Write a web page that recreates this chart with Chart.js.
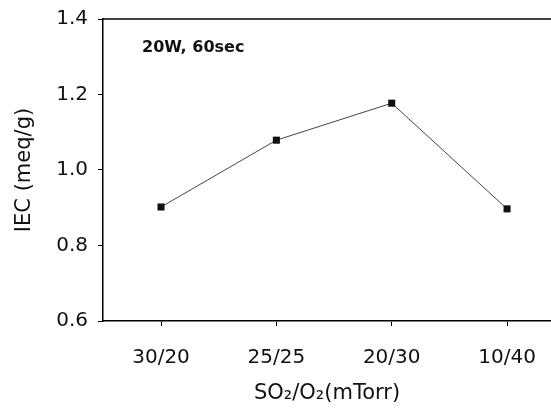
<!DOCTYPE html>
<html>
<head>
<meta charset="utf-8">
<script src="https://cdn.jsdelivr.net/npm/chart.js@4"></script>
<style>
  body { margin: 0; background: #fff; }
  canvas { display: block; }
</style>
</head>
<body>
<canvas id="chart" width="551" height="411"></canvas>
<script>
// ================= DATA =================
const categories = ["30/20", "25/25", "20/30", "10/40"];
const iecValues = [0.902, 1.079, 1.177, 0.897];
const yTicks = [0.6, 0.8, 1.0, 1.2, 1.4];
const noteText = "20W, 60sec";

const FONT = "'DejaVu Sans', sans-serif";

// ================= PLUGIN: top frame + note =================
const framePlugin = {
    id: "frame",
    afterDraw(chart) {
        const { ctx, chartArea } = chart;
        ctx.save();
        ctx.strokeStyle = "#000";
        ctx.lineWidth = 1.5;
        ctx.beginPath();
        ctx.moveTo(chartArea.left, chartArea.top);
        ctx.lineTo(chartArea.right, chartArea.top);
        ctx.stroke();

        ctx.fillStyle = "#111";
        ctx.font = "bold 16px " + FONT;
        ctx.textBaseline = "middle";
        ctx.fillText(noteText, chartArea.left + 39, chartArea.top + 29);
        ctx.restore();
    }
};

// ================= CHART =================
const ctx = document.getElementById("chart").getContext("2d");

new Chart(ctx, {
    type: "line",
    data: {
        datasets: [{
            data: iecValues.map((v, i) => ({ x: i, y: v })),
            borderColor: "#444",
            borderWidth: 1,
            pointStyle: "rect",
            pointRadius: 5,
            pointBackgroundColor: "#111",
            pointBorderColor: "#111",
            pointBorderWidth: 0,
            tension: 0
        }]
    },
    plugins: [framePlugin],
    options: {
        responsive: false,
        animation: false,
        layout: { autoPadding: false, padding: { top: 19, right: 0, left: 0, bottom: 0 } },
        plugins: {
            legend: { display: false },
            tooltip: { enabled: false }
        },
        scales: {
            x: {
                type: "linear",
                min: -0.503,
                max: 3.381,
                afterBuildTicks: (s) => { s.ticks = categories.map((_, i) => ({ value: i })); },
                afterFit: (s) => {
                    s.height = 90;
                    s.paddingLeft = 0;
                    s.paddingRight = 0;
                },
                grid: { drawOnChartArea: false, drawTicks: true, tickLength: 5, color: "#000" },
                border: { display: true, color: "#000", width: 1.5 },
                ticks: {
                    color: "#111",
                    font: { family: FONT, size: 20 },
                    padding: 20,
                    maxRotation: 0,
                    callback: (v) => categories[v] ?? ""
                },
                title: {
                    display: true,
                    text: "SO₂/O₂(mTorr)",
                    color: "#111",
                    font: { family: FONT, size: 21 },
                    padding: { top: 0, bottom: 5 }
                }
            },
            y: {
                min: 0.6,
                max: 1.4,
                afterBuildTicks: (s) => { s.ticks = yTicks.map(v => ({ value: v })); },
                afterFit: (s) => {
                    s.width = 103;
                    s.paddingTop = 0;
                    s.paddingBottom = 0;
                },
                grid: { drawOnChartArea: false, drawTicks: true, tickLength: 5, color: "#000" },
                border: { display: true, color: "#000", width: 1.5 },
                ticks: {
                    color: "#111",
                    font: { family: FONT, size: 20 },
                    padding: 10,
                    callback: (v) => v.toFixed(1)
                },
                title: {
                    display: true,
                    text: "IEC (meq/g)",
                    color: "#111",
                    font: { family: FONT, size: 21 },
                    padding: { top: 12, bottom: 0 }
                }
            }
        }
    }
});
</script>
</body>
</html>
